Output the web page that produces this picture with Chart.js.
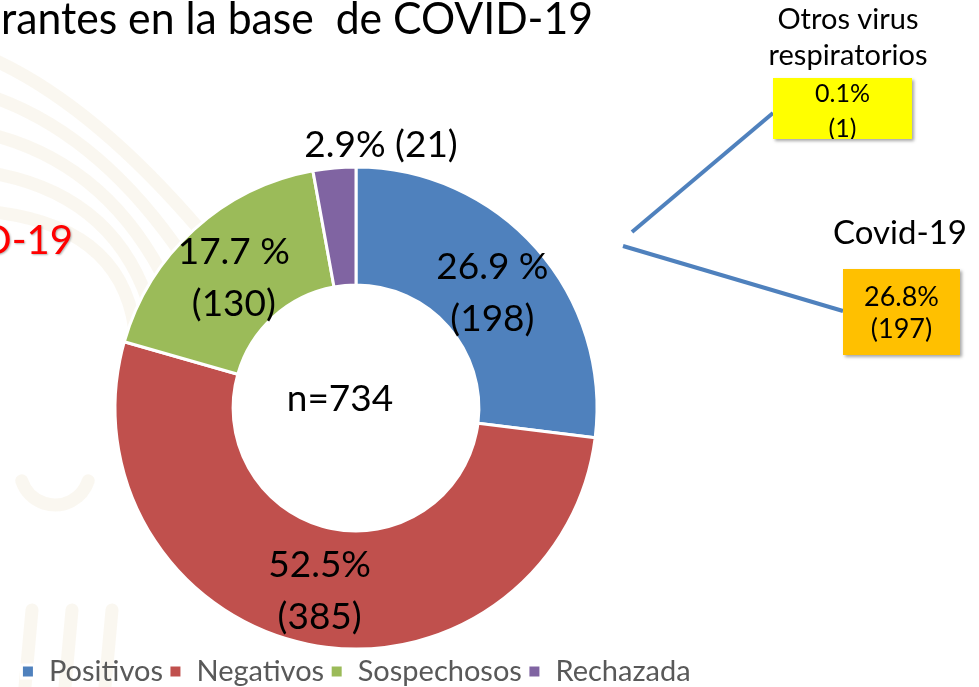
<!DOCTYPE html>
<html>
<head>
<meta charset="utf-8">
<script src="https://cdn.jsdelivr.net/npm/chart.js@4.4.0/dist/chart.umd.min.js"></script>
<style>
  html, body { margin: 0; padding: 0; background: #fff; }
  #wrap { position: relative; width: 979px; height: 687px; overflow: hidden; }
</style>
</head>
<body>
<div id="wrap"><canvas id="donut" width="979" height="687"></canvas></div>
<script>
// data
const categories = ['Positivos', 'Negativos', 'Sospechosos', 'Rechazada'];
const counts = [198, 385, 130, 21];
const percentLabels = ['26.9 %', '52.5%', '17.7 %', '2.9%'];
const sliceColors = ['#4F81BD', '#C0504D', '#9BBB59', '#8064A2'];
const totalN = 734;

// breakdown of the positives (callout boxes on the right)
const subtypeNames = [['Otros virus', 'respiratorios'], ['Covid-19']];
const subtypePercents = ['0.1%', '26.8%'];
const subtypeCounts = [1, 197];
const subtypeColors = ['#FFFF00', '#FFC000'];

const FONT = 'Lato, "Open Sans", sans-serif';
Chart.defaults.font.family = FONT;

// faint decorative pattern + cut-off slide title
const slideBackdrop = {
  id: 'slideBackdrop',
  beforeDraw(chart) {
    const ctx = chart.ctx;
    ctx.save();
    ctx.fillStyle = '#fff';
    ctx.fillRect(0, 0, chart.width, chart.height);
    ctx.strokeStyle = 'rgba(242, 234, 218, 0.4)';
    ctx.lineWidth = 13;
    ctx.lineCap = 'round';
    for (let k = 0; k < 5; k++) {
      const o = k * 40;
      ctx.beginPath();
      ctx.moveTo(-30, 50 + o);
      ctx.quadraticCurveTo(80 + o * 0.3, 90 + o * 0.8, 200 - o * 0.4, 230 + o * 0.7);
      ctx.stroke();
    }
    for (let k = 0; k < 3; k++) {
      ctx.beginPath();
      ctx.moveTo(25 + k * 40, 687);
      ctx.lineTo(32 + k * 40, 610);
      ctx.stroke();
    }
    ctx.beginPath();
    ctx.arc(55, 470, 35, Math.PI * 0.1, Math.PI * 0.9);
    ctx.stroke();
    ctx.restore();

    ctx.save();
    ctx.fillStyle = '#000';
    ctx.textAlign = 'left';
    ctx.textBaseline = 'alphabetic';
    ctx.font = '44px ' + FONT;
    ctx.fillText('rantes en la base  de COVID-19', 1, 34, 592);
    ctx.fillStyle = '#FF0000';
    ctx.shadowColor = 'rgba(0,0,0,0.3)';
    ctx.shadowOffsetX = 1;
    ctx.shadowOffsetY = 1;
    ctx.shadowBlur = 2;
    ctx.textAlign = 'right';
    ctx.font = '40px ' + FONT;
    ctx.fillText('COVID-19', 73, 254);
    ctx.restore();
  }
};

// percentage / count labels on the slices and n in the hole
const sliceLabels = {
  id: 'sliceLabels',
  afterDatasetsDraw(chart) {
    const ctx = chart.ctx;
    const meta = chart.getDatasetMeta(0);
    ctx.save();
    ctx.fillStyle = '#000';
    ctx.textAlign = 'center';
    ctx.textBaseline = 'middle';
    ctx.font = '37px ' + FONT;
    meta.data.forEach((arc, i) => {
      if (counts[i] / totalN < 0.05) {
        ctx.fillText(percentLabels[i] + ' (' + counts[i] + ')', arc.x + 25, arc.y - arc.outerRadius - 22);
      } else {
        const p = arc.tooltipPosition();
        ctx.fillText(percentLabels[i], p.x, p.y - 21);
        ctx.fillText('(' + counts[i] + ')', p.x, p.y + 31);
      }
    });
    const c = meta.data[0];
    ctx.fillText('n=' + totalN, c.x - 16, c.y - 9);
    ctx.restore();
  }
};

// callout lines and boxes for the breakdown of positives
const positivesCallout = {
  id: 'positivesCallout',
  afterDraw(chart) {
    const ctx = chart.ctx;
    const boxes = [
      { x: 773, y: 78, w: 139, h: 61, line: [632, 232, 773, 113], titleX: 848, titleY: [20, 56], titleFont: 29, font: 25, dy: [-15, 20] },
      { x: 843, y: 269, w: 117, h: 86, line: [623, 246, 843, 311], titleX: 900, titleY: [233], titleFont: 33, font: 27, dy: [-15, 17] }
    ];
    ctx.save();
    boxes.forEach((b, i) => {
      ctx.strokeStyle = '#4F81BD';
      ctx.lineWidth = 4;
      ctx.beginPath();
      ctx.moveTo(b.line[0], b.line[1]);
      ctx.lineTo(b.line[2], b.line[3]);
      ctx.stroke();

      ctx.save();
      ctx.shadowColor = 'rgba(0,0,0,0.35)';
      ctx.shadowOffsetX = 2;
      ctx.shadowOffsetY = 2;
      ctx.shadowBlur = 3;
      ctx.fillStyle = subtypeColors[i];
      ctx.fillRect(b.x, b.y, b.w, b.h);
      ctx.restore();

      ctx.fillStyle = '#000';
      ctx.textAlign = 'center';
      ctx.textBaseline = 'middle';
      ctx.font = b.titleFont + 'px ' + FONT;
      subtypeNames[i].forEach((t, j) => ctx.fillText(t, b.titleX, b.titleY[j]));

      ctx.font = b.font + 'px ' + FONT;
      const cx = b.x + b.w / 2;
      const cy = b.y + b.h / 2;
      ctx.save();
      ctx.beginPath();
      ctx.rect(b.x, b.y, b.w, b.h);
      ctx.clip();
      ctx.fillText(subtypePercents[i], cx, cy + b.dy[0]);
      ctx.fillText('(' + subtypeCounts[i] + ')', cx, cy + b.dy[1]);
      ctx.restore();
    });
    ctx.restore();
  }
};

new Chart(document.getElementById('donut'), {
  type: 'doughnut',
  data: {
    labels: categories,
    datasets: [{
      data: counts,
      backgroundColor: sliceColors,
      borderColor: '#fff',
      borderWidth: 3
    }]
  },
  options: {
    responsive: false,
    animation: false,
    events: [],
    radius: 241,
    cutout: '51%',
    layout: {
      padding: { left: 0, right: 267, top: 165, bottom: -9 }
    },
    plugins: {
      legend: {
        position: 'bottom',
        labels: {
          color: '#595959',
          font: { size: 29 },
          boxWidth: 13,
          boxHeight: 13,
          padding: 6
        }
      },
      tooltip: { enabled: false }
    }
  },
  plugins: [slideBackdrop, sliceLabels, positivesCallout]
});
</script>
</body>
</html>
